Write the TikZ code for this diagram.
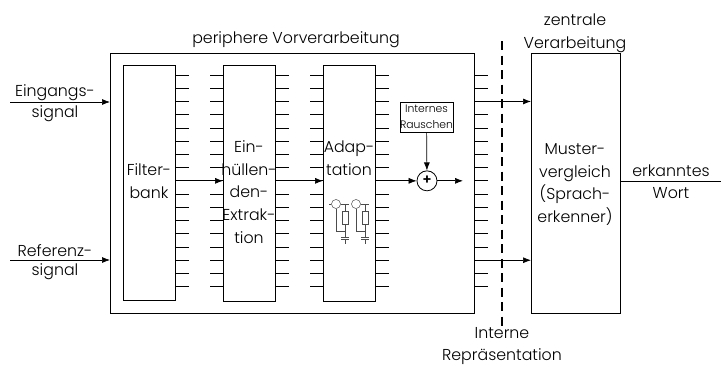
\documentclass[tikz,border=0pt]{standalone}
\usepackage{fontspec}
\setmainfont{Poppins Light}
\usepackage{tikz}
\usetikzlibrary{arrows.meta,positioning}

\begin{document}
\begin{tikzpicture}[
    x=1pt, y=-1pt,
    every node/.style={align=center, font=\fontsize{15.8}{22.7}\selectfont, inner sep=0pt},
    stage/.style={draw, rectangle, line width=0.8pt, anchor=north west},
    pin/.style={line width=0.7pt},
    flow/.style={line width=0.7pt, -{Latex[length=8pt,width=6pt]}},
    part/.style={line width=0.5pt, black!70}
]
\useasboundingbox (0,0) rectangle (721,367);
% boxes
\node[stage, minimum width=364pt, minimum height=260pt] (vor) at (110,53) {};
\node[stage, minimum width=52pt, minimum height=235pt, fill=white] (filter) at (123,65) {};
\node[stage, minimum width=52pt, minimum height=236pt, fill=white] (huell) at (223,65) {};
\node[stage, minimum width=52pt, minimum height=236pt, fill=white] (adap) at (323,65) {};
\node[stage, minimum width=89pt, minimum height=260pt] (muster) at (531,53) {};
% tick marks
\foreach \i in {0,...,16} {
    \pgfmathsetmacro{\yy}{75+13.23*\i}
    \draw[pin] (175,\yy) -- (189,\yy);
    \draw[pin] (210,\yy) -- (223,\yy);
    \draw[pin] (275,\yy) -- (289,\yy);
    \draw[pin] (310,\yy) -- (323,\yy);
    \draw[pin] (375,\yy) -- (389,\yy);
    \draw[pin] (474,\yy) -- (488,\yy);
}
% box texts
\node at (149,181) {Filter-\\bank};
\node at (249,192) {Ein-\\hüllen-\\den-\\Extrak-\\tion};
\node at (349,158) {Adap-\\tation};
\node at (575,184.5) {Muster-\\vergleich\\(Sprach-\\erkenner)};
\node at (296,40) {periphere Vorverarbeitung};
\node at (575,33.5) {zentrale\\Verarbeitung};
\node at (502,346) {Interne\\Repräsentation};
% noise source and adder
\node[draw, line width=0.8pt, minimum width=52pt, minimum height=30pt, font=\fontsize{10.8}{16}\selectfont] (noise) at (426.5,117) {Internes\\Rauschen};
\node[draw, circle, line width=0.8pt, minimum size=20pt, fill=white] (add) at (427,180.84) {};
\node[font=\bfseries\fontsize{14}{14}\selectfont] (plus) at (427,180.5) {+};
% signal paths
\coordinate (ein) at (10,102);
\coordinate (ref) at (10,260);
\coordinate (ausA) at (474,101.46);
\coordinate (ausB) at (474,260.22);
\coordinate (addout) at (463,180.84);
\coordinate (wort) at (721,181);
\draw[flow] (ein) -- (vor.west |- ein);
\draw[flow] (ref) -- (vor.west |- ref);
\draw[flow] (filter.east |- add) -- (huell.west |- add);
\draw[flow] (huell.east |- add) -- (adap.west |- add);
\draw[flow] (adap.east |- add) -- (add);
\draw[flow] (add) -- (addout);
\draw[flow] (noise) -- (add);
\draw[flow] (ausA) -- (muster.west |- ausA);
\draw[flow] (ausB) -- (muster.west |- ausB);
\draw[line width=0.8pt] (muster.east |- wort) -- (wort);
\draw[line width=1.2pt, dash pattern=on 9pt off 5.5pt] (502,41) -- (502,327);
% outer labels
\node at (55,93) {Eingangs-};
\node at (55,114) {signal};
\node at (55,251) {Referenz-};
\node at (55,272) {signal};
\node at (671,171) {erkanntes};
\node at (671,193) {Wort};
% small circuit
\foreach \x in {336,356} {
    \node[draw, circle, part, minimum size=9pt] (amp\x) at (\x,204) {};
    \node[draw, rectangle, part, minimum width=5.5pt, minimum height=13pt] (res\x) at (\x+9,217.5) {};
    \draw[part] (amp\x) -- (\x,231) -- (\x+9,231);
    \draw[part] (amp\x.east) -- (\x+13,204);
    \draw[part] (\x+9,204) -- (res\x);
    \draw[part] (res\x) -- (\x+9,237.5);
    \draw[part] (\x+9,239.5) -- (\x+9,244);
    \draw[part, line width=0.8pt] (\x+5,237.5) -- (\x+13,237.5);
    \draw[part, line width=0.8pt] (\x+5,239.5) -- (\x+13,239.5);
}
\draw[part] (amp336.west) -- (329,204);
\end{tikzpicture}
\end{document}
